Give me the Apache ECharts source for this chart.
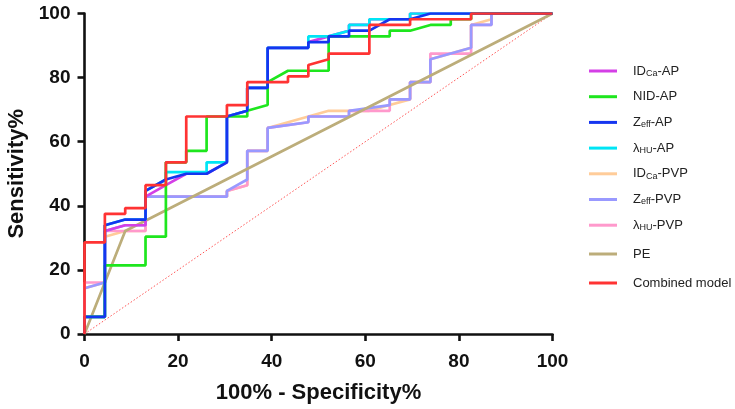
<!DOCTYPE html>
<html>
<head>
<meta charset="utf-8">
<script src="https://cdn.jsdelivr.net/npm/echarts@6/dist/echarts.min.js"></script>
<style>html,body{margin:0;padding:0;background:#fff}#c{width:735px;height:409px}</style>
</head>
<body>
<div id="c"></div>
<script>
const xTicks = [0, 20, 40, 60, 80, 100];
const yTicks = [0, 20, 40, 60, 80, 100];

const idcaAP = [[0,0],[0,5.36],[4.35,5.36],[4.35,32.14],[8.7,33.93],[13.04,33.93],[13.04,42.86],[17.39,46.43],[21.74,50],[26.09,50],[30.43,53.57],[30.43,67.86],[34.78,69.64],[34.78,76.79],[39.13,76.79],[39.13,89.29],[47.83,89.29],[47.83,91.07],[52.17,92.86],[56.52,94.64],[56.52,96.43],[60.87,96.43],[60.87,98.21],[69.57,98.21],[69.57,100],[100,100]];
const nidAP = [[0,0],[0,5.36],[4.35,5.36],[4.35,21.43],[13.04,21.43],[13.04,30.36],[17.39,30.36],[17.39,53.57],[21.74,53.57],[21.74,57.14],[26.09,57.14],[26.09,67.86],[34.78,67.86],[34.78,69.64],[39.13,71.43],[39.13,78.57],[43.48,82.14],[52.17,82.14],[52.17,92.86],[65.22,92.86],[65.22,94.64],[69.57,94.64],[73.91,96.43],[78.26,96.43],[78.26,98.21],[82.61,98.21],[82.61,100],[100,100]];
const zeffAP = [[0,0],[0,5.36],[4.35,5.36],[4.35,33.93],[8.7,35.71],[13.04,35.71],[13.04,44.64],[17.39,48.21],[21.74,50],[26.09,50],[30.43,53.57],[30.43,67.86],[34.78,69.64],[34.78,76.79],[39.13,76.79],[39.13,89.29],[47.83,89.29],[47.83,91.07],[52.17,91.07],[52.17,92.86],[56.52,92.86],[56.52,94.64],[60.87,94.64],[65.22,98.21],[69.57,98.21],[73.91,100],[100,100]];
const huAP = [[0,0],[0,5.36],[4.35,5.36],[4.35,33.93],[8.7,35.71],[13.04,35.71],[13.04,44.64],[17.39,48.21],[17.39,50.5],[21.74,50.5],[26.09,50.5],[26.09,53.57],[30.43,53.57],[30.43,67.86],[34.78,69.64],[34.78,76.79],[39.13,76.79],[39.13,89.29],[47.83,89.29],[47.83,92.86],[52.17,92.86],[56.52,94.64],[56.52,96.43],[60.87,96.43],[60.87,98.21],[69.57,98.21],[69.57,100],[100,100]];
const idcaPVP = [[0,0],[0,14.29],[4.35,16.07],[4.35,30.36],[8.7,32.14],[13.04,32.14],[13.04,42.86],[30.43,42.86],[30.43,44.64],[34.78,46.43],[34.78,57.14],[39.13,57.14],[39.13,64.29],[47.83,67.86],[52.17,69.64],[60.87,69.64],[65.22,71.43],[69.57,73.21],[69.57,78.57],[73.91,78.57],[73.91,85.71],[82.61,89.29],[82.61,96.43],[86.96,98.21],[86.96,100],[100,100]];
const zeffPVP = [[0,0],[0,14.29],[4.35,16.07],[4.35,32.14],[8.7,33.93],[13.04,33.93],[13.04,42.86],[30.43,42.86],[30.43,44.64],[34.78,48.21],[34.78,57.14],[39.13,57.14],[39.13,64.29],[47.83,66.07],[47.83,67.86],[56.52,67.86],[56.52,69.64],[65.22,71.43],[65.22,73.21],[69.57,73.21],[69.57,78.57],[73.91,78.57],[73.91,85.71],[82.61,89.29],[82.61,96.43],[86.96,96.43],[86.96,100],[100,100]];
const huPVP = [[0,0],[0,16.07],[4.35,16.07],[4.35,32.14],[13.04,32.14],[13.04,42.86],[30.43,42.86],[30.43,44.64],[34.78,46.43],[34.78,57.14],[39.13,57.14],[39.13,64.29],[47.83,66.07],[47.83,67.86],[56.52,67.86],[56.52,69.64],[65.22,69.64],[65.22,73.21],[69.57,73.21],[69.57,78.57],[73.91,78.57],[73.91,87.5],[82.61,87.5],[82.61,96.43],[86.96,96.43],[86.96,100],[100,100]];
const pe = [[0,0],[8.7,32.14],[100,100]];
const combined = [[0,0],[0,28.57],[4.35,28.57],[4.35,37.5],[8.7,37.5],[8.7,39.29],[13.04,39.29],[13.04,46.43],[17.39,46.43],[17.39,53.57],[21.74,53.57],[21.74,67.86],[30.43,67.86],[30.43,71.43],[34.78,71.43],[34.78,78.57],[43.48,78.57],[43.48,80.36],[47.83,80.36],[47.83,83.93],[52.17,85.71],[52.17,87.5],[60.87,87.5],[60.87,96.43],[69.57,96.43],[69.57,98.21],[82.61,98.21],[82.61,100],[100,100]];
const refLine = [[0,0],[100,100]];

const namesA = ['IDCa-AP','NID-AP','Zeff-AP','λHU-AP','IDCa-PVP','Zeff-PVP','λHU-PVP'];
const namesB = ['PE','Combined model'];
const labels = {
  'IDCa-AP':'{m|ID}{s|Ca}{m|-AP}',
  'NID-AP':'{m|NID-AP}',
  'Zeff-AP':'{m|Z}{s|eff}{m|-AP}',
  'λHU-AP':'{m|λ}{s|HU}{m|-AP}',
  'IDCa-PVP':'{m|ID}{s|Ca}{m|-PVP}',
  'Zeff-PVP':'{m|Z}{s|eff}{m|-PVP}',
  'λHU-PVP':'{m|λ}{s|HU}{m|-PVP}',
  'PE':'{m|PE}',
  'Combined model':'{m|Combined model}'
};
const colors = {
  'IDCa-AP':'#d43fe6','NID-AP':'#1ee61e','Zeff-AP':'#1535f0','λHU-AP':'#00e5f5',
  'IDCa-PVP':'#ffcc99','Zeff-PVP':'#9999ff','λHU-PVP':'#ff99cc','PE':'#bcad7a','Combined model':'#ff3333'
};
const dataMap = {
  'IDCa-AP':idcaAP,'NID-AP':nidAP,'Zeff-AP':zeffAP,'λHU-AP':huAP,
  'IDCa-PVP':idcaPVP,'Zeff-PVP':zeffPVP,'λHU-PVP':huPVP,'PE':pe,'Combined model':combined
};
const drawOrder = ['IDCa-PVP','λHU-PVP','Zeff-PVP','PE','IDCa-AP','λHU-AP','NID-AP','Zeff-AP','Combined model'];

const font = 'Liberation Sans, Arial, sans-serif';
const series = [{
  type:'line', name:'ref', data:refLine, showSymbol:false, silent:true,
  lineStyle:{color:'#ff5555', width:1, type:[1.5,2]}, z:1
}];
drawOrder.forEach(n => series.push({
  type:'line', name:n, data:dataMap[n], showSymbol:false, symbol:'none',
  lineStyle:{color:colors[n], width:2.7}, itemStyle:{color:colors[n]}
}));

const legendText = {
  fontFamily:font, fontSize:13, color:'#222', padding:[0,0,0,11], lineHeight:14,
  rich:{
    m:{fontFamily:font, fontSize:13, color:'#222', lineHeight:14},
    s:{fontFamily:font, fontSize:9, color:'#222', lineHeight:9, padding:[5,0,0,0]}
  }
};

const chart = echarts.init(document.getElementById('c'), null, {renderer:'canvas'});
chart.setOption({
  animation:false,
  backgroundColor:'#fff',
  grid:{left:84.5, right:182.5, top:13.5, bottom:75, containLabel:false, outerBoundsMode:'none'},
  xAxis:{
    type:'value', min:0, max:100, interval:20,
    name:'100% - Specificity%', nameLocation:'middle', nameGap:48,
    nameTextStyle:{fontFamily:font, fontWeight:'bold', fontSize:22, color:'#111'},
    axisLine:{lineStyle:{color:'#111', width:2.6}},
    axisTick:{show:true, length:7, lineStyle:{color:'#111', width:2.6}},
    axisLabel:{fontFamily:font, fontWeight:'bold', fontSize:19, color:'#111', margin:18,
      formatter:v => xTicks.includes(v) ? String(v) : ''},
    splitLine:{show:false}
  },
  yAxis:{
    type:'value', min:0, max:100, interval:20,
    name:'Sensitivity%', nameLocation:'middle', nameGap:55,
    nameTextStyle:{fontFamily:font, fontWeight:'bold', fontSize:22, color:'#111'},
    axisLine:{lineStyle:{color:'#111', width:2.6}},
    axisTick:{show:true, length:7, lineStyle:{color:'#111', width:2.6}},
    axisLabel:{fontFamily:font, fontWeight:'bold', fontSize:19, color:'#111', margin:14,
      formatter:v => yTicks.includes(v) ? String(v) : ''},
    splitLine:{show:false}
  },
  legend:[{
    orient:'vertical', left:584, top:59,
    data:namesA, icon:'rect', itemWidth:28, itemHeight:3, itemGap:11.7,
    formatter:n => labels[n], textStyle:legendText
  },{
    orient:'vertical', left:584, top:242,
    data:namesB, icon:'rect', itemWidth:28, itemHeight:3, itemGap:15,
    formatter:n => labels[n], textStyle:legendText
  }],
  series:series
});
</script>
</body>
</html>
